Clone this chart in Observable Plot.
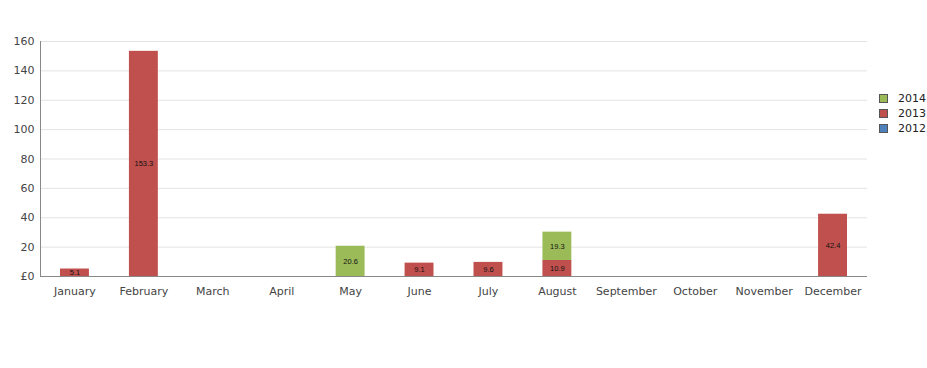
<!DOCTYPE html>
<html>
<head>
<meta charset="utf-8">
<script src="https://cdn.jsdelivr.net/npm/d3@7"></script>
<script src="https://cdn.jsdelivr.net/npm/@observablehq/plot@0.6"></script>
<style>
  html, body { margin: 0; padding: 0; background: #fff; }
  #wrap { position: relative; width: 927px; height: 368px; }
  #legend { position: absolute; left: 879px; top: 91px; font: 11px "DejaVu Sans", sans-serif; color: #222; }
  #legend .row { display: flex; align-items: center; height: 15px; }
  #legend .sw { width: 7px; height: 7px; border: 1px solid #555; margin-right: 10px; }
</style>
</head>
<body>
<div id="wrap"><div id="legend"></div></div>
<script>
const months = ["January","February","March","April","May","June","July","August","September","October","November","December"];
const years = ["2012","2013","2014"];
const colors = ["#4F81BD","#C0504D","#9BBB59"];
const values2012 = [null,null,null,null,null,null,null,null,null,null,null,null];
const values2013 = [5.1,153.3,null,null,null,9.1,9.6,10.9,null,null,null,42.4];
const values2014 = [null,null,null,null,20.6,null,null,19.3,null,null,null,null];
const yTicks = [0,20,40,60,80,100,120,140,160];

const series = {"2012": values2012, "2013": values2013, "2014": values2014};
const data = [];
for (const yr of years) {
  series[yr].forEach((v, i) => { if (v != null) data.push({month: months[i], year: yr, value: v}); });
}

const chart = Plot.plot({
  width: 927,
  height: 368,
  marginLeft: 40,
  marginRight: 60,
  marginTop: 41,
  marginBottom: 92,
  style: {fontFamily: "DejaVu Sans, sans-serif", fontSize: "11px", color: "#444", background: "#fff"},
  x: {domain: months, padding: 0, round: false, label: null},
  y: {domain: [0,160], label: null},
  color: {domain: years, range: colors},
  marks: [
    Plot.gridY(yTicks, {stroke: "#e3e3e3", strokeOpacity: 1}),
    Plot.axisY(yTicks, {tickSize: 0, tickPadding: 6, tickFormat: d => d === 0 ? "£0" : String(d), fill: "#444"}),
    Plot.axisX({tickSize: 0, tickPadding: 11, fill: "#444"}),
    Plot.barY(data, {x: "month", y: "value", fill: "year", order: years, insetLeft: 20, insetRight: 20}),
    Plot.text(data, Plot.stackY({x: "month", y: "value", z: "year", order: years, text: d => d.value.toFixed(1), fontSize: 7.5, fontFamily: "Liberation Sans, Arial, sans-serif", fill: "#111"})),
    Plot.ruleY([0], {stroke: "#888"}),
    Plot.frame({anchor: "left", stroke: "#888"})
  ]
});
document.getElementById("wrap").prepend(chart);

const legend = document.getElementById("legend");
for (let i = years.length - 1; i >= 0; i--) {
  const row = document.createElement("div");
  row.className = "row";
  row.innerHTML = `<div class="sw" style="background:${colors[i]}"></div><span>${years[i]}</span>`;
  legend.appendChild(row);
}
</script>
</body>
</html>
